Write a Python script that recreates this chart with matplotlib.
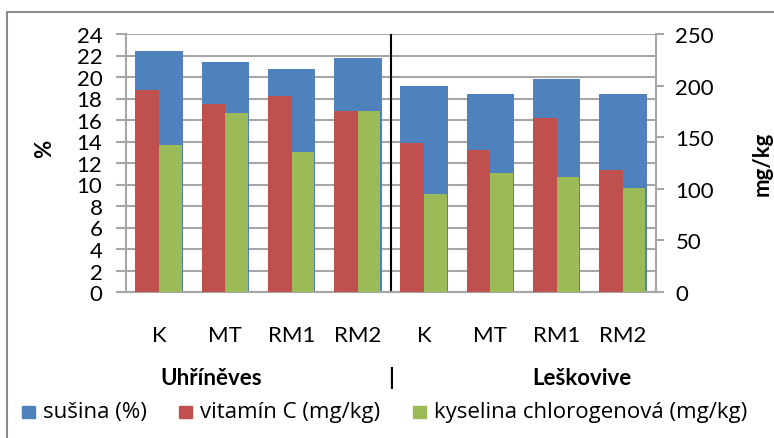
import matplotlib
matplotlib.use("Agg")
import matplotlib.pyplot as plt
import numpy as np
from matplotlib.patches import Rectangle

plt.rcParams['font.family'] = ['Lato', 'DejaVu Sans']

# data
categories = ['K', 'MT', 'RM1', 'RM2', 'K', 'MT', 'RM1', 'RM2']
groups = ['Uhříněves', 'Leškovive']
series_names = ['sušina (%)', 'vitamín C (mg/kg)', 'kyselina chlorogenová (mg/kg)']
susina = [22.4, 21.4, 20.7, 21.8, 19.2, 18.4, 19.8, 18.4]          # %
vitamin_c = [196, 182, 190, 175, 144, 138, 169, 118]               # mg/kg
kys_chlorogenova = [142, 173, 136, 175, 95, 115, 111, 101]         # mg/kg

blue = '#4F81BD'
red = '#C0504D'
green = '#9BBB59'
grid_c = '#A6A6A6'
fs = 16

W, H = 774, 439
fig = plt.figure(figsize=(W / 100, H / 100), dpi=100)
ax = fig.add_axes([126 / W, 1 - 293 / H, 530 / W, 258 / H])
ax2 = ax.twinx()

x = np.arange(len(categories))
ax.bar(x, susina, width=0.72, color=blue, zorder=2)
ax2.bar(x - 0.18, vitamin_c, width=0.36, color=red, zorder=3)
ax2.bar(x + 0.17, kys_chlorogenova, width=0.34, color=green, zorder=3)

ax.set_xlim(-0.5, len(categories) - 0.5)
ax.set_ylim(0, 24)
ax.set_yticks(np.arange(0, 25, 2))
ax2.set_ylim(0, 250)
ax2.set_yticks(np.arange(0, 251, 50))

ax.set_zorder(ax2.get_zorder() - 1)
ax.patch.set_visible(False)
ax2.patch.set_visible(False)

ax.yaxis.grid(True, color=grid_c, linewidth=1.5, zorder=0)
ax.set_axisbelow(True)

for a in (ax, ax2):
    for s in a.spines.values():
        s.set_color(grid_c)
        s.set_linewidth(1.5)
    a.spines['top'].set_visible(False)
ax2.spines['left'].set_visible(False)
ax.spines['right'].set_visible(False)

ax.tick_params(axis='y', length=7, width=1.5, color=grid_c, labelsize=fs, pad=10)
ax2.tick_params(axis='y', length=6, width=1.5, color=grid_c, labelsize=fs, pad=8)
ax.set_xticks(x)
ax.set_xticklabels(categories, fontsize=fs)
ax.tick_params(axis='x', length=0, pad=24)

ax.set_ylabel('%', fontsize=fs, fontweight='bold')
ax.yaxis.set_label_coords(-0.134, 0.56)
ax2.set_ylabel('mg/kg', fontsize=fs, fontweight='bold')
ax2.yaxis.set_label_coords(1.181, 0.5)

# group separator and group labels
ax.axvline(3.5, color='black', linewidth=1.5, zorder=4)
trans = ax.get_xaxis_transform()
ax.text(0.78, -0.33, groups[0], transform=trans, ha='center', va='center',
        fontsize=fs, fontweight='bold')
ax.text(3.5, -0.33, '|', transform=trans, ha='center', va='center',
        fontsize=fs, fontweight='bold')
ax.text(6.38, -0.33, groups[1], transform=trans, ha='center', va='center',
        fontsize=fs, fontweight='bold')

# legend, placed by hand like the original
legend_x = [22, 179, 413]
for name, col, lx in zip(series_names, [blue, red, green], legend_x):
    fig.patches.append(Rectangle((lx / W, 1 - 419 / H), 13 / W, 12 / H,
                                 transform=fig.transFigure, color=col))
    fig.text((lx + 21) / W, 1 - 413 / H, name, fontsize=fs, va='center', ha='left',
             family=['Open Sans', 'DejaVu Sans'])

# outer chart frame
fig.patches.append(Rectangle((7 / W, -0.05), 1.0, 1 - 13 / H + 0.05,
                             transform=fig.transFigure, fill=False,
                             edgecolor='#8C8C8C', linewidth=1.5))

fig.savefig('out.png', dpi=100)
